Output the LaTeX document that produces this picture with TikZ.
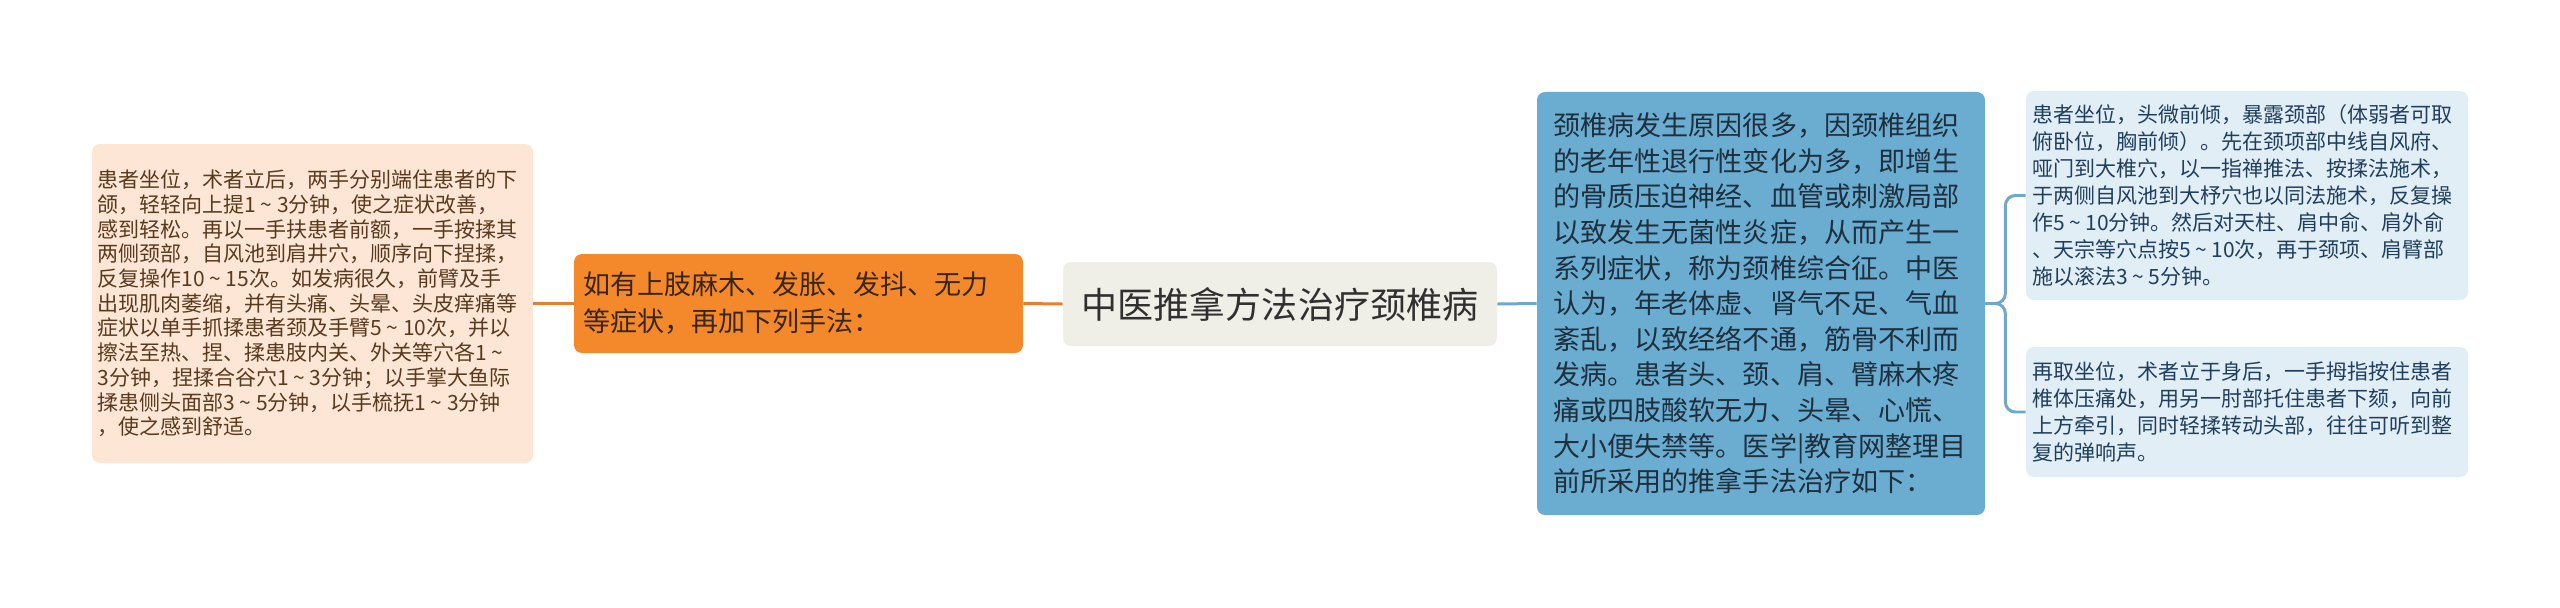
\documentclass[tikz,border=0pt]{standalone}
\usepackage{fontspec}
\setmainfont{Noto Sans CJK SC}
\usepackage{xcolor}
\usetikzlibrary{calc}
\definecolor{peach}{HTML}{FDE6D5}
\definecolor{peachink}{HTML}{5A3A1E}
\definecolor{carrot}{HTML}{F4892C}
\definecolor{carrotink}{HTML}{3A2616}
\definecolor{carrotline}{HTML}{E97D2C}
\definecolor{rootgray}{HTML}{EFEFE8}
\definecolor{rootink}{HTML}{303030}
\definecolor{sky}{HTML}{6BADD1}
\definecolor{skyink}{HTML}{1E2F3D}
\definecolor{skyline}{HTML}{6FA8CB}
\definecolor{pale}{HTML}{E2EEF6}
\definecolor{paleink}{HTML}{1F3F5C}
\newcommand\rtil{\kern.22em\textasciitilde\kern.22em}
\tikzset{
  box/.style={rounded corners=1.6mm, align=left, inner ysep=0pt},
  rootbox/.style={box, fill=rootgray, text=rootink, align=center, font=\fontsize{20.5pt}{24pt}\selectfont},
  peachbox/.style={box, fill=peach, text=peachink, text width=8.6cm, inner xsep=0.11cm, font=\fontsize{11.95pt}{14.06pt}\selectfont},
  carrotbox/.style={box, fill=carrot, text=carrotink, text width=8.6cm, inner xsep=0.19cm, font=\fontsize{15.37pt}{21.06pt}\selectfont},
  skybox/.style={box, fill=sky, text=skyink, text width=8.3cm, inner xsep=0.33cm, font=\fontsize{15.4pt}{20.26pt}\selectfont},
  palebox/.style={box, fill=pale, text=paleink, text width=8.6cm, inner xsep=0.12cm, font=\fontsize{11.95pt}{15.3pt}\selectfont},
  carrotlink/.style={line width=1.7pt, draw=carrotline},
  skylink/.style={line width=1.7pt, draw=skyline, rounded corners=2mm}
}
\begin{document}
\begin{tikzpicture}
  \path[fill=white, use as bounding box] (0,0) rectangle (51.2,12.14);
  \node[rootbox, minimum width=8.68cm, minimum height=1.68cm] (root) at (25.6,6.06) {中医推拿方法治疗颈椎病};
  \node[carrotbox, minimum width=8.98cm, minimum height=1.98cm] (extra) at (15.97,6.07) {如有上肢麻木、发胀、发抖、无力\\等症状，再加下列手法：};
  \node[peachbox, minimum width=8.82cm, minimum height=6.38cm] (massage) at (6.25,6.07) {患者坐位，术者立后，两手分别端住患者的下\\颌，轻轻向上提1\rtil 3分钟，使之症状改善，\\感到轻松。再以一手扶患者前额，一手按揉其\\两侧颈部，自风池到肩井穴，顺序向下捏揉，\\反复操作10\rtil 15次。如发病很久，前臂及手\\出现肌肉萎缩，并有头痛、头晕、头皮痒痛等\\症状以单手抓揉患者颈及手臂5\rtil 10次，并以\\擦法至热、捏、揉患肢内关、外关等穴各1\kern.22em\textasciitilde\\3分钟，捏揉合谷穴1\rtil 3分钟；以手掌大鱼际\\揉患侧头面部3\rtil 5分钟，以手梳抚1\rtil 3分钟\\，使之感到舒适。};
  \node[skybox, minimum width=8.96cm, minimum height=8.46cm] (cause) at (35.22,6.07) {颈椎病发生原因很多，因颈椎组织\\的老年性退行性变化为多，即增生\\的骨质压迫神经、血管或刺激局部\\以致发生无菌性炎症，从而产生一\\系列症状，称为颈椎综合征。中医\\认为，年老体虚、肾气不足、气血\\紊乱，以致经络不通，筋骨不利而\\发病。患者头、颈、肩、臂麻木疼\\痛或四肢酸软无力、头晕、心慌、\\大小便失禁等。医学|教育网整理目\\前所采用的推拿手法治疗如下：};
  \node[palebox, minimum width=8.84cm, minimum height=4.18cm] (seat) at (44.94,8.23) {患者坐位，头微前倾，暴露颈部（体弱者可取\\俯卧位，胸前倾）。先在颈项部中线自风府、\\哑门到大椎穴，以一指禅推法、按揉法施术，\\于两侧自风池到大杼穴也以同法施术，反复操\\作5\rtil 10分钟。然后对天柱、肩中俞、肩外俞\\、天宗等穴点按5\rtil 10次，再于颈项、肩臂部\\施以滚法3\rtil 5分钟。};
  \node[palebox, minimum width=8.84cm, minimum height=2.6cm] (pull) at (44.94,3.9) {再取坐位，术者立于身后，一手拇指按住患者\\椎体压痛处，用另一肘部托住患者下颏，向前\\上方牵引，同时轻揉转动头部，往往可听到整\\复的弹响声。};
  \draw[carrotlink] (massage.east) -- (extra.west);
  \draw[carrotlink] (extra.east) -- (root.west);
  \draw[skylink] (root.east) -- (cause.west);
  \draw[skylink] (cause.east) -- ++(0.4,0) |- (seat.west);
  \draw[skylink] (cause.east) -- ++(0.4,0) |- (pull.west);
\end{tikzpicture}
\end{document}
